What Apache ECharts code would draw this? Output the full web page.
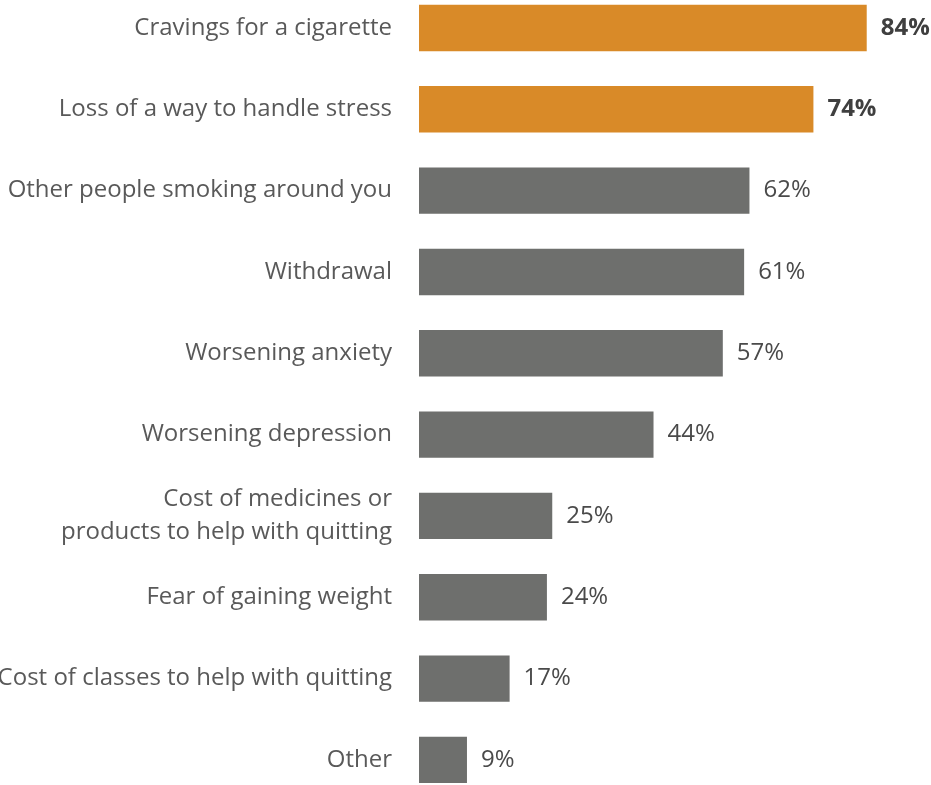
<!DOCTYPE html>
<html>
<head>
<meta charset="utf-8">
<script src="https://cdn.jsdelivr.net/npm/echarts@6/dist/echarts.min.js"></script>
<style>
  html, body { margin: 0; padding: 0; background: #ffffff; }
  #chart { width: 931px; height: 785px; }
</style>
</head>
<body>
<div id="chart"></div>
<script>
// Barriers to quitting, share of respondents (%)
const categories = [
  'Cravings for a cigarette',
  'Loss of a way to handle stress',
  'Other people smoking around you',
  'Withdrawal',
  'Worsening anxiety',
  'Worsening depression',
  'Cost of medicines or\nproducts to help with quitting',
  'Fear of gaining weight',
  'Cost of classes to help with quitting',
  'Other'
];
const values = [84, 74, 62, 61, 57, 44, 25, 24, 17, 9];
// The leading items are emphasised
const highlightCount = 2;

const ORANGE = '#D98A28';
const GREY = '#6E6F6D';

const seriesData = values.map((v, i) => {
  const hi = i < highlightCount;
  return {
    value: v,
    itemStyle: { color: hi ? ORANGE : GREY },
    label: {
      fontWeight: hi ? 'bold' : 'normal',
      color: hi ? '#3f3f3f' : '#4a4a4a'
    }
  };
});

const chart = echarts.init(document.getElementById('chart'), null, { renderer: 'canvas' });
chart.setOption({
  animation: false,
  textStyle: { fontFamily: '"Open Sans", sans-serif' },
  grid: {
    left: 419, width: 533, top: -12.7, height: 813.3,
    containLabel: false, outerBoundsMode: 'none'
  },
  xAxis: {
    type: 'value', min: 0, max: 100, show: false
  },
  yAxis: {
    type: 'category',
    data: categories,
    inverse: true,
    axisLine: { show: false },
    axisTick: { show: false },
    axisLabel: {
      margin: 27,
      fontSize: 24,
      lineHeight: 33,
      color: '#595959',
      fontFamily: '"Open Sans", sans-serif',
      align: 'right'
    }
  },
  series: [{
    type: 'bar',
    data: seriesData,
    barCategoryGap: '43%',
    label: {
      show: true,
      position: 'right',
      distance: 14,
      fontSize: 24,
      fontFamily: '"Open Sans", sans-serif',
      formatter: p => p.value + '%'
    }
  }]
});
</script>
</body>
</html>
